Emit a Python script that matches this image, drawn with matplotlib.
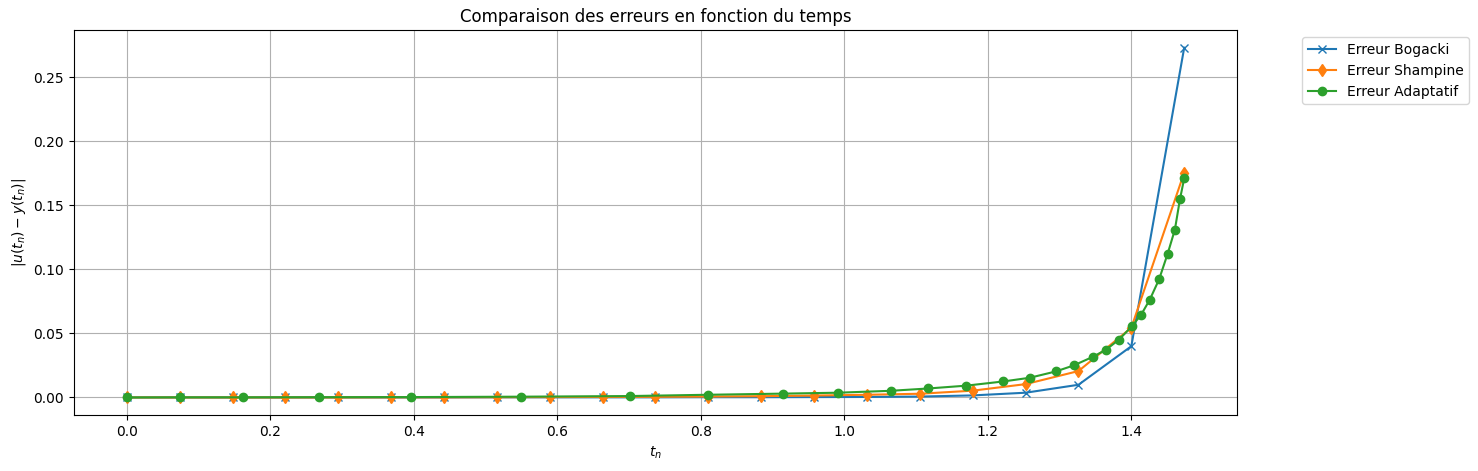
import numpy as np
import matplotlib.pyplot as plt

# temps a pas fixe (Bogacki / Shampine)
t_fixe = [0.0, 0.0737, 0.1474, 0.2211, 0.2948, 0.3685, 0.4422, 0.5159, 0.5896, 0.6633,
          0.737, 0.8107, 0.8844, 0.9581, 1.0318, 1.1055, 1.1792, 1.2529, 1.3266, 1.4003, 1.474]
err_bogacki = [0.0, 0.0, 0.0, 0.0, 0.0, 0.0, 0.0, 0.0001, 0.0001, 0.0001,
               0.0001, 0.0002, 0.0002, 0.0003, 0.0004, 0.0007, 0.0016, 0.0037, 0.0099, 0.040, 0.273]
err_shampine = [0.0, 0.0, 0.0, 0.0, 0.0, 0.0001, 0.0001, 0.0002, 0.0003, 0.0004,
                0.0005, 0.0007, 0.001, 0.0015, 0.0021, 0.0029, 0.0053, 0.0104, 0.0206, 0.0544, 0.1755]

# temps adaptatif
t_adapt = [0.0, 0.074, 0.162, 0.268, 0.396, 0.549, 0.701, 0.810, 0.915, 0.991,
           1.065, 1.117, 1.170, 1.222, 1.259, 1.295, 1.320, 1.347, 1.365, 1.383,
           1.401, 1.414, 1.426, 1.439, 1.451, 1.461, 1.468, 1.474]
err_adapt = [0.0, 0.0001, 0.0001, 0.0002, 0.0003, 0.0006, 0.0011, 0.0021, 0.003, 0.0037,
             0.0052, 0.007, 0.0092, 0.0125, 0.0154, 0.0203, 0.025, 0.0318, 0.0373, 0.0451,
             0.0555, 0.0646, 0.0763, 0.0922, 0.1123, 0.131, 0.1545, 0.171]

fig = plt.figure(figsize=(14.78, 4.71), dpi=100)
ax = fig.add_axes([0.050, 0.119, 0.787, 0.817])
ax.plot(t_fixe, err_bogacki, marker='x', label='Erreur Bogacki')
ax.plot(t_fixe, err_shampine, marker='d', label='Erreur Shampine')
ax.plot(t_adapt, err_adapt, marker='o', label='Erreur Adaptatif')
ax.set_title('Comparaison des erreurs en fonction du temps')
ax.set_xlabel(r'$t_n$')
ax.set_ylabel(r'$|u(t_n) - y(t_n)|$')
ax.grid(True)
ax.legend(bbox_to_anchor=(1.05, 1), loc='upper left')
fig.savefig('out.png', dpi=100)
